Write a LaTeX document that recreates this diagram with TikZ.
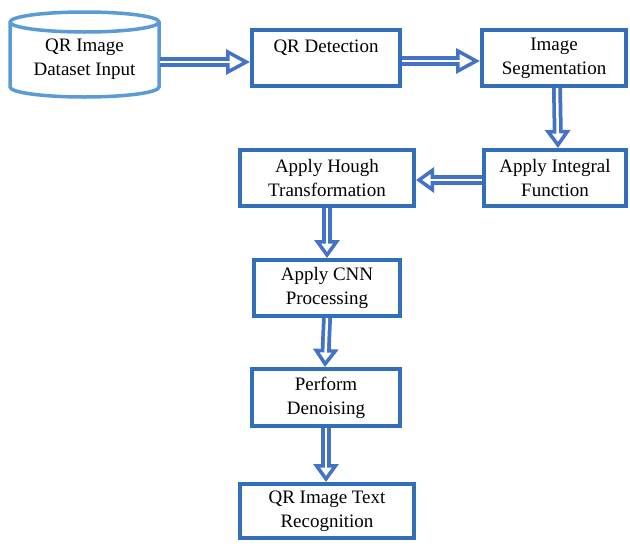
\documentclass[tikz,border=0pt]{standalone}
\usepackage{fontspec}
\setmainfont{Liberation Serif}
\usetikzlibrary{arrows.meta}
\definecolor{boxblue}{RGB}{50,110,185}
\definecolor{cylblue}{RGB}{91,155,213}
\definecolor{arrowblue}{RGB}{68,114,196}
\tikzset{
  stepbox/.style={draw=boxblue, line width=4pt, fill=white, rectangle,
    align=center, inner sep=0pt, font=\fontsize{19}{24}\selectfont},
  % thick blue shaft with a white core and a hollow head
  flow/.style={draw=arrowblue, line width=10pt,
    -{Triangle[open, fill=white, length=#1, width=25pt, line width=3.5pt]},
    postaction={draw=white, line width=2.5pt, -, shorten >=#1-7pt}},
  flow/.default=18pt,
}
\begin{document}
\begin{tikzpicture}[x=1pt, y=1pt]
  \useasboundingbox (0,0) rectangle (630,-544);
  % dataset cylinder
  \draw[cylblue, line width=3.5pt, fill=white]
    (10,-22) -- (10,-87) arc[start angle=180, end angle=360, x radius=74.5, y radius=10]
    -- (159,-22) arc[start angle=0, end angle=180, x radius=74.5, y radius=10] -- cycle;
  \draw[cylblue, line width=3.5pt]
    (10,-22) arc[start angle=180, end angle=360, x radius=74.5, y radius=10];
  \node[align=center, inner sep=0pt, minimum width=150pt, minimum height=60pt,
        font=\fontsize{19}{24}\selectfont] (cyl) at (84.5,-59) {QR Image\\Dataset Input};

  % processing steps
  \node[stepbox, minimum width=148pt, minimum height=56pt] (det) at (326,-58)
    {QR Detection\\\phantom{X}};
  \node[stepbox, minimum width=144pt, minimum height=56pt] (seg) at (554,-58)
    {Image\\Segmentation};
  \node[stepbox, minimum width=142pt, minimum height=56pt] (int) at (555,-178)
    {Apply Integral\\Function};
  \node[stepbox, minimum width=174pt, minimum height=56pt] (hough) at (327,-178)
    {Apply Hough\\Transformation};
  \node[stepbox, minimum width=146pt, minimum height=56pt] (cnn) at (327,-288)
    {Apply CNN\\Processing};
  \node[stepbox, minimum width=148pt, minimum height=57pt] (den) at (326,-397.5)
    {Perform\\Denoising};
  \node[stepbox, minimum width=174pt, minimum height=54pt] (rec) at (327,-511)
    {QR Image Text\\Recognition};

  % connectors
  \draw[flow=24pt] ([yshift=-3pt]cyl.east) -- ([yshift=-4pt]det.west);
  \draw[flow=24pt] ([yshift=-3pt]det.east) -- ([yshift=-3pt]seg.west);
  \draw[flow] ([xshift=3pt]seg.south) -- ([xshift=3pt]int.north);
  \draw[flow] ([yshift=-2pt]int.west) -- ([yshift=-2pt]hough.east);
  \draw[flow] (hough.south) -- (cnn.north);
  \draw[flow] (cnn.south) -- ([xshift=-1pt]den.north);
  \draw[flow] (den.south) -- ([xshift=-1pt]rec.north);
\end{tikzpicture}
\end{document}
